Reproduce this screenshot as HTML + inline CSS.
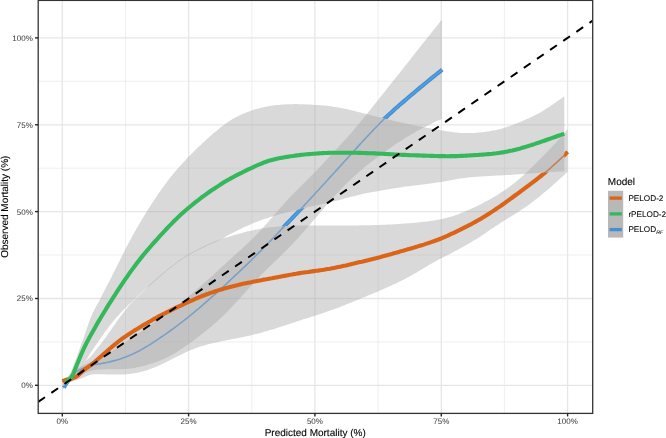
<!DOCTYPE html>
<html><head><meta charset="utf-8"><title>Calibration plot</title>
<style>
html,body{margin:0;padding:0;background:#fff;}
body{width:666px;height:438px;overflow:hidden;font-family:"Liberation Sans",sans-serif;}
svg{display:block;font-family:"Liberation Sans",sans-serif;text-rendering:geometricPrecision;}
.mn{stroke:#ebebeb;stroke-width:0.8;}
.mj{stroke:#e6e6e6;stroke-width:1.3;}
.tk{stroke:#262626;stroke-width:1.4;}
.tl{font-size:8px;fill:#444;stroke:#444;stroke-width:0.05;}
.ll{font-size:8.2px;fill:#000;stroke:#000;stroke-width:0.06;}
.at{font-size:10px;fill:#000;stroke:#000;stroke-width:0.1;}
.rb{fill:#a6a6a6;fill-opacity:0.43;stroke:none;}
.thick{fill:none;stroke-width:4.1;stroke-linecap:butt;stroke-linejoin:round;}
.thin{fill:none;stroke-width:1.6;stroke-linecap:butt;stroke-linejoin:round;}
</style></head><body>
<svg width="666" height="438" viewBox="0 0 666 438">
<defs>
<clipPath id="panel"><rect x="38.2" y="0.0" width="554.5" height="413.4"/></clipPath>
<mask id="mB" maskUnits="userSpaceOnUse" x="0" y="0" width="666" height="438"><rect width="666" height="438" fill="#fff"/><path d="M62.5,383.5 L64.5,382.5 L66.5,381.2 L68.5,379.8 L70.5,378.2 L72.5,376.4 L74.5,374.3 L76.5,372.0 L78.5,369.5 L80.5,367.1 L82.5,364.7 L84.5,362.2 L86.5,360.2 L88.5,358.5 L90.5,356.7 L92.4,354.5 L94.4,352.1 L96.4,349.6 L98.4,347.1 L100.4,344.5 L102.4,341.8 L104.4,339.1 L106.4,336.4 L108.4,333.6 L110.4,330.7 L112.4,327.8 L114.4,324.9 L116.4,322.1 L118.4,319.3 L120.4,316.6 L122.4,313.9 L124.4,311.3 L126.4,308.7 L128.4,306.2 L130.4,303.9 L132.4,301.9 L134.4,299.9 L136.4,297.9 L138.4,296.0 L140.4,294.1 L142.4,292.2 L144.4,290.4 L146.4,288.5 L148.3,286.2 L150.3,284.1 L152.3,282.3 L154.3,280.6 L156.3,278.8 L158.3,277.1 L160.3,275.3 L162.3,273.6 L164.3,271.9 L166.3,270.3 L168.3,268.6 L170.3,267.0 L172.3,265.4 L174.3,263.9 L176.3,262.4 L178.3,260.9 L180.3,259.5 L182.3,258.2 L184.3,256.9 L186.3,255.6 L188.3,254.4 L190.3,253.3 L192.3,252.2 L194.3,251.1 L196.3,250.0 L198.3,249.0 L200.3,248.0 L202.3,247.0 L204.2,246.1 L206.2,245.1 L208.2,244.2 L210.2,243.3 L212.2,242.4 L214.2,241.5 L216.2,240.7 L218.2,239.9 L220.2,239.2 L222.2,238.5 L224.2,237.9 L226.2,237.4 L228.2,236.9 L230.2,236.3 L232.2,235.7 L234.2,235.1 L236.2,234.5 L238.2,234.0 L240.2,233.4 L242.2,232.9 L244.2,232.3 L246.2,231.8 L248.2,231.3 L250.2,230.9 L252.2,230.4 L254.2,230.0 L256.2,229.6 L258.2,229.2 L260.1,228.8 L262.1,228.5 L264.1,228.2 L266.1,227.9 L268.1,227.6 L270.1,227.4 L272.1,227.1 L274.1,226.9 L276.1,226.7 L278.1,226.5 L280.1,226.4 L282.1,226.2 L284.1,226.1 L286.1,226.0 L288.1,225.9 L290.1,225.8 L292.1,225.7 L294.1,225.6 L296.1,225.6 L298.1,225.5 L300.1,225.5 L302.1,225.4 L304.1,225.4 L306.1,225.4 L308.1,225.4 L310.1,225.4 L312.1,225.4 L314.1,225.4 L316.0,225.4 L318.0,225.4 L320.0,225.4 L322.0,225.4 L324.0,225.4 L326.0,225.4 L328.0,225.4 L330.0,225.4 L332.0,225.4 L334.0,225.4 L336.0,225.4 L338.0,225.4 L340.0,225.4 L342.0,225.4 L344.0,225.4 L346.0,225.4 L348.0,225.4 L350.0,225.4 L352.0,225.4 L354.0,225.4 L356.0,225.4 L358.0,225.4 L360.0,225.3 L362.0,225.3 L364.0,225.3 L366.0,225.3 L368.0,225.2 L370.0,225.2 L371.9,225.2 L373.9,225.1 L375.9,225.0 L377.9,225.0 L379.9,224.9 L381.9,224.8 L383.9,224.8 L385.9,224.7 L387.9,224.6 L389.9,224.5 L391.9,224.4 L393.9,224.3 L395.9,224.2 L397.9,224.0 L399.9,223.9 L401.9,223.8 L403.9,223.6 L405.9,223.5 L407.9,223.3 L409.9,223.2 L411.9,223.0 L413.9,222.8 L415.9,222.7 L417.9,222.5 L419.9,222.3 L421.9,222.0 L423.9,221.8 L425.9,221.6 L427.8,221.4 L429.8,221.1 L431.8,220.8 L433.8,220.5 L435.8,220.2 L437.8,219.8 L439.8,219.5 L441.8,219.0 L443.8,218.6 L445.8,218.1 L447.8,217.6 L449.8,217.0 L451.8,216.4 L453.8,215.7 L455.8,215.1 L457.8,214.4 L459.8,213.6 L461.8,212.8 L463.8,212.0 L465.8,211.2 L467.8,210.3 L469.8,209.5 L471.8,208.5 L473.8,207.6 L475.8,206.7 L477.8,205.7 L479.8,204.7 L481.8,203.7 L483.7,202.6 L485.7,201.6 L487.7,200.5 L489.7,199.4 L491.7,198.2 L493.7,197.1 L495.7,195.9 L497.7,194.6 L499.7,193.4 L501.7,192.1 L503.7,190.7 L505.7,189.4 L507.7,188.0 L509.7,186.5 L511.7,185.0 L513.7,183.5 L515.7,181.9 L517.7,180.3 L519.7,178.6 L521.7,176.9 L523.7,175.1 L525.7,173.3 L527.7,171.4 L529.7,169.5 L531.7,167.5 L533.7,165.6 L535.7,163.6 L537.7,161.6 L539.6,159.6 L541.6,157.5 L543.6,155.5 L545.6,153.4 L547.6,151.4 L549.6,149.3 L551.6,147.2 L553.6,145.1 L555.6,142.9 L557.6,140.8 L559.6,138.6 L561.6,136.3 L563.6,134.1 L565.6,131.8 L567.6,129.5 L567.6,171.7 L565.6,173.6 L563.6,175.4 L561.6,177.3 L559.6,179.1 L557.6,180.9 L555.6,182.7 L553.6,184.5 L551.6,186.2 L549.6,188.0 L547.6,189.7 L545.6,191.4 L543.6,193.1 L541.6,194.7 L539.6,196.4 L537.7,198.0 L535.7,199.6 L533.7,201.1 L531.7,202.6 L529.7,204.1 L527.7,205.5 L525.7,206.9 L523.7,208.3 L521.7,209.6 L519.7,210.9 L517.7,212.2 L515.7,213.4 L513.7,214.7 L511.7,216.0 L509.7,217.2 L507.7,218.5 L505.7,219.8 L503.7,221.1 L501.7,222.3 L499.7,223.6 L497.7,224.9 L495.7,226.1 L493.7,227.4 L491.7,228.8 L489.7,230.1 L487.7,231.5 L485.7,232.9 L483.7,234.3 L481.8,235.6 L479.8,237.0 L477.8,238.3 L475.8,239.5 L473.8,240.6 L471.8,241.8 L469.8,242.9 L467.8,244.1 L465.8,245.2 L463.8,246.4 L461.8,247.5 L459.8,248.6 L457.8,249.7 L455.8,250.8 L453.8,251.8 L451.8,252.9 L449.8,253.9 L447.8,254.9 L445.8,255.9 L443.8,257.0 L441.8,258.0 L439.8,259.0 L437.8,260.1 L435.8,261.2 L433.8,262.3 L431.8,263.4 L429.8,264.6 L427.8,265.7 L425.9,266.9 L423.9,268.1 L421.9,269.3 L419.9,270.5 L417.9,271.7 L415.9,272.9 L413.9,274.0 L411.9,275.2 L409.9,276.2 L407.9,277.3 L405.9,278.4 L403.9,279.4 L401.9,280.4 L399.9,281.4 L397.9,282.4 L395.9,283.4 L393.9,284.3 L391.9,285.3 L389.9,286.2 L387.9,287.1 L385.9,288.0 L383.9,288.8 L381.9,289.7 L379.9,290.6 L377.9,291.4 L375.9,292.3 L373.9,293.1 L371.9,293.9 L370.0,294.8 L368.0,295.6 L366.0,296.4 L364.0,297.3 L362.0,298.1 L360.0,298.9 L358.0,299.7 L356.0,300.5 L354.0,301.3 L352.0,302.2 L350.0,303.0 L348.0,303.8 L346.0,304.6 L344.0,305.4 L342.0,306.1 L340.0,306.9 L338.0,307.7 L336.0,308.4 L334.0,309.2 L332.0,309.9 L330.0,310.6 L328.0,311.3 L326.0,312.0 L324.0,312.7 L322.0,313.4 L320.0,314.0 L318.0,314.7 L316.0,315.3 L314.1,315.9 L312.1,316.6 L310.1,317.2 L308.1,317.9 L306.1,318.5 L304.1,319.1 L302.1,319.8 L300.1,320.4 L298.1,321.1 L296.1,321.8 L294.1,322.4 L292.1,323.1 L290.1,323.7 L288.1,324.4 L286.1,325.0 L284.1,325.7 L282.1,326.3 L280.1,327.0 L278.1,327.6 L276.1,328.2 L274.1,328.9 L272.1,329.5 L270.1,330.1 L268.1,330.7 L266.1,331.3 L264.1,331.8 L262.1,332.4 L260.1,332.9 L258.2,333.5 L256.2,334.0 L254.2,334.5 L252.2,335.0 L250.2,335.4 L248.2,335.9 L246.2,336.3 L244.2,336.8 L242.2,337.2 L240.2,337.6 L238.2,338.0 L236.2,338.4 L234.2,338.8 L232.2,339.1 L230.2,339.5 L228.2,339.9 L226.2,340.3 L224.2,340.7 L222.2,341.1 L220.2,341.5 L218.2,341.9 L216.2,342.4 L214.2,342.8 L212.2,343.3 L210.2,343.8 L208.2,344.3 L206.2,344.8 L204.2,345.4 L202.3,346.0 L200.3,346.6 L198.3,347.2 L196.3,347.9 L194.3,348.7 L192.3,349.4 L190.3,350.2 L188.3,351.1 L186.3,352.0 L184.3,352.9 L182.3,353.9 L180.3,354.9 L178.3,355.9 L176.3,356.9 L174.3,357.9 L172.3,359.0 L170.3,360.0 L168.3,361.0 L166.3,362.0 L164.3,363.0 L162.3,364.0 L160.3,364.9 L158.3,365.8 L156.3,366.7 L154.3,367.5 L152.3,368.3 L150.3,369.0 L148.3,369.7 L146.4,370.4 L144.4,371.0 L142.4,371.6 L140.4,372.1 L138.4,372.5 L136.4,373.0 L134.4,373.3 L132.4,373.6 L130.4,373.9 L128.4,374.1 L126.4,374.3 L124.4,374.4 L122.4,374.5 L120.4,374.5 L118.4,374.6 L116.4,374.6 L114.4,374.5 L112.4,374.5 L110.4,374.4 L108.4,374.4 L106.4,374.4 L104.4,374.3 L102.4,374.3 L100.4,374.3 L98.4,374.3 L96.4,374.3 L94.4,374.3 L92.4,374.4 L90.5,374.7 L88.5,375.4 L86.5,376.2 L84.5,377.1 L82.5,378.0 L80.5,378.8 L78.5,379.5 L76.5,380.1 L74.5,380.7 L72.5,381.4 L70.5,382.1 L68.5,383.0 L66.5,384.0 L64.5,385.1 L62.5,386.3Z" fill="#000"/><path d="M62.5,384.0 L64.5,382.2 L66.5,379.9 L68.5,376.8 L70.5,373.0 L72.5,368.3 L74.5,363.1 L76.5,357.6 L78.5,351.9 L80.5,346.3 L82.5,341.0 L84.5,335.4 L86.5,329.5 L88.5,323.6 L90.5,318.0 L92.5,313.4 L94.5,309.5 L96.5,305.8 L98.5,302.2 L100.5,298.3 L102.5,294.4 L104.5,290.5 L106.5,286.6 L108.5,282.8 L110.5,278.9 L112.5,275.0 L114.5,271.0 L116.5,267.0 L118.5,263.0 L120.5,259.0 L122.5,255.0 L124.5,251.0 L126.5,247.1 L128.5,243.3 L130.5,239.5 L132.5,235.8 L134.5,232.2 L136.5,228.7 L138.5,225.3 L140.5,221.9 L142.5,218.6 L144.5,215.3 L146.5,212.0 L148.5,208.8 L150.5,205.7 L152.5,202.6 L154.5,199.6 L156.5,196.6 L158.5,193.6 L160.5,190.8 L162.5,187.9 L164.5,185.2 L166.5,182.4 L168.5,179.8 L170.5,177.2 L172.5,174.7 L174.5,172.3 L176.5,170.0 L178.5,167.7 L180.5,165.5 L182.5,163.3 L184.5,161.2 L186.5,159.1 L188.4,157.1 L190.4,155.0 L192.4,153.0 L194.4,151.0 L196.4,149.1 L198.4,147.1 L200.4,145.2 L202.4,143.3 L204.4,141.5 L206.4,139.6 L208.4,137.8 L210.4,136.1 L212.4,134.3 L214.4,132.6 L216.4,130.9 L218.4,129.2 L220.4,127.6 L222.4,126.0 L224.4,124.5 L226.4,123.0 L228.4,121.7 L230.4,120.4 L232.4,119.1 L234.4,118.0 L236.4,116.9 L238.4,115.9 L240.4,114.9 L242.4,114.0 L244.4,113.2 L246.4,112.4 L248.4,111.7 L250.4,111.0 L252.4,110.3 L254.4,109.6 L256.4,109.0 L258.4,108.5 L260.4,107.9 L262.4,107.4 L264.4,106.9 L266.4,106.5 L268.4,106.2 L270.4,105.8 L272.4,105.5 L274.4,105.3 L276.4,105.1 L278.4,104.9 L280.4,104.7 L282.4,104.6 L284.4,104.4 L286.4,104.3 L288.4,104.3 L290.4,104.2 L292.4,104.2 L294.4,104.1 L296.4,104.1 L298.4,104.2 L300.4,104.2 L302.4,104.3 L304.4,104.3 L306.4,104.4 L308.4,104.5 L310.4,104.6 L312.4,104.7 L314.4,104.9 L316.4,105.0 L318.4,105.1 L320.4,105.3 L322.4,105.5 L324.4,105.6 L326.4,105.8 L328.4,106.1 L330.4,106.3 L332.4,106.6 L334.4,106.9 L336.4,107.2 L338.4,107.5 L340.4,107.9 L342.4,108.3 L344.4,108.7 L346.4,109.1 L348.4,109.6 L350.4,110.0 L352.4,110.5 L354.4,110.9 L356.4,111.4 L358.4,111.9 L360.4,112.4 L362.4,112.9 L364.4,113.4 L366.4,113.9 L368.4,114.4 L370.4,114.9 L372.4,115.4 L374.4,115.9 L376.4,116.4 L378.4,116.9 L380.4,117.5 L382.4,118.0 L384.4,118.5 L386.4,119.0 L388.4,119.5 L390.4,120.0 L392.4,120.4 L394.4,120.9 L396.4,121.4 L398.4,121.8 L400.4,122.3 L402.4,122.8 L404.4,123.2 L406.4,123.6 L408.4,124.1 L410.4,124.5 L412.4,124.9 L414.4,125.3 L416.4,125.7 L418.4,126.2 L420.4,126.6 L422.4,126.9 L424.4,127.3 L426.4,127.7 L428.4,128.1 L430.4,128.4 L432.4,128.8 L434.4,129.1 L436.4,129.5 L438.4,129.8 L440.3,130.2 L442.3,130.5 L444.3,130.8 L446.3,131.2 L448.3,131.5 L450.3,131.8 L452.3,132.1 L454.3,132.4 L456.3,132.6 L458.3,132.8 L460.3,132.9 L462.3,133.0 L464.3,133.1 L466.3,133.1 L468.3,133.1 L470.3,133.1 L472.3,133.0 L474.3,132.9 L476.3,132.8 L478.3,132.6 L480.3,132.4 L482.3,132.2 L484.3,132.0 L486.3,131.7 L488.3,131.4 L490.3,131.1 L492.3,130.7 L494.3,130.3 L496.3,129.9 L498.3,129.4 L500.3,128.9 L502.3,128.4 L504.3,127.8 L506.3,127.2 L508.3,126.5 L510.3,125.8 L512.3,125.1 L514.3,124.3 L516.3,123.5 L518.3,122.7 L520.3,121.9 L522.3,121.0 L524.3,120.2 L526.3,119.3 L528.3,118.4 L530.3,117.5 L532.3,116.6 L534.3,115.6 L536.3,114.6 L538.3,113.6 L540.3,112.4 L542.3,111.3 L544.3,110.1 L546.3,108.8 L548.3,107.5 L550.3,106.2 L552.3,104.8 L554.3,103.4 L556.3,102.0 L558.3,100.6 L560.3,99.2 L562.3,97.7 L564.3,96.2 L564.3,171.3 L562.3,171.4 L560.3,171.5 L558.3,171.6 L556.3,171.7 L554.3,171.9 L552.3,172.0 L550.3,172.1 L548.3,172.2 L546.3,172.4 L544.3,172.5 L542.3,172.6 L540.3,172.8 L538.3,172.9 L536.3,173.0 L534.3,173.2 L532.3,173.3 L530.3,173.5 L528.3,173.6 L526.3,173.8 L524.3,173.9 L522.3,174.1 L520.3,174.2 L518.3,174.3 L516.3,174.5 L514.3,174.6 L512.3,174.7 L510.3,174.9 L508.3,175.0 L506.3,175.1 L504.3,175.2 L502.3,175.3 L500.3,175.4 L498.3,175.5 L496.3,175.6 L494.3,175.7 L492.3,175.8 L490.3,175.9 L488.3,176.1 L486.3,176.2 L484.3,176.3 L482.3,176.4 L480.3,176.5 L478.3,176.7 L476.3,176.8 L474.3,177.0 L472.3,177.1 L470.3,177.3 L468.3,177.5 L466.3,177.7 L464.3,178.0 L462.3,178.2 L460.3,178.5 L458.3,178.8 L456.3,179.2 L454.3,179.5 L452.3,179.9 L450.3,180.3 L448.3,180.7 L446.3,181.0 L444.3,181.4 L442.3,181.7 L440.3,182.0 L438.4,182.3 L436.4,182.6 L434.4,182.9 L432.4,183.2 L430.4,183.5 L428.4,183.8 L426.4,184.0 L424.4,184.3 L422.4,184.6 L420.4,184.8 L418.4,185.1 L416.4,185.3 L414.4,185.6 L412.4,185.8 L410.4,186.1 L408.4,186.3 L406.4,186.6 L404.4,186.8 L402.4,187.1 L400.4,187.4 L398.4,187.7 L396.4,188.0 L394.4,188.3 L392.4,188.6 L390.4,188.9 L388.4,189.3 L386.4,189.6 L384.4,190.0 L382.4,190.3 L380.4,190.7 L378.4,191.0 L376.4,191.4 L374.4,191.7 L372.4,192.1 L370.4,192.5 L368.4,192.8 L366.4,193.2 L364.4,193.6 L362.4,194.1 L360.4,194.5 L358.4,194.9 L356.4,195.4 L354.4,195.9 L352.4,196.4 L350.4,196.9 L348.4,197.5 L346.4,198.1 L344.4,198.6 L342.4,199.2 L340.4,199.8 L338.4,200.3 L336.4,200.8 L334.4,201.3 L332.4,201.8 L330.4,202.3 L328.4,202.7 L326.4,203.2 L324.4,203.6 L322.4,204.1 L320.4,204.5 L318.4,204.9 L316.4,205.3 L314.4,205.8 L312.4,206.2 L310.4,206.6 L308.4,207.1 L306.4,207.5 L304.4,208.0 L302.4,208.4 L300.4,208.9 L298.4,209.4 L296.4,209.9 L294.4,210.4 L292.4,210.9 L290.4,211.4 L288.4,211.9 L286.4,212.5 L284.4,213.0 L282.4,213.6 L280.4,214.1 L278.4,214.7 L276.4,215.3 L274.4,215.9 L272.4,216.5 L270.4,217.1 L268.4,217.7 L266.4,218.4 L264.4,219.1 L262.4,219.8 L260.4,220.5 L258.4,221.3 L256.4,222.1 L254.4,222.8 L252.4,223.6 L250.4,224.5 L248.4,225.3 L246.4,226.2 L244.4,227.1 L242.4,228.0 L240.4,229.0 L238.4,229.9 L236.4,230.9 L234.4,231.9 L232.4,233.0 L230.4,234.0 L228.4,235.1 L226.4,236.3 L224.4,237.4 L222.4,238.5 L220.4,239.5 L218.4,240.5 L216.4,241.4 L214.4,242.4 L212.4,243.3 L210.4,244.2 L208.4,245.1 L206.4,246.0 L204.4,247.0 L202.4,247.9 L200.4,248.9 L198.4,249.9 L196.4,250.9 L194.4,252.0 L192.4,253.1 L190.4,254.2 L188.4,255.3 L186.5,256.5 L184.5,257.8 L182.5,259.0 L180.5,260.4 L178.5,261.8 L176.5,263.2 L174.5,264.7 L172.5,266.3 L170.5,267.9 L168.5,269.5 L166.5,271.1 L164.5,272.8 L162.5,274.5 L160.5,276.2 L158.5,278.0 L156.5,279.7 L154.5,281.5 L152.5,283.2 L150.5,285.0 L148.5,286.7 L146.5,288.2 L144.5,289.9 L142.5,291.7 L140.5,293.6 L138.5,295.4 L136.5,297.3 L134.5,299.3 L132.5,301.2 L130.5,303.2 L128.5,305.1 L126.5,307.1 L124.5,309.0 L122.5,311.0 L120.5,313.1 L118.5,315.3 L116.5,317.5 L114.5,319.8 L112.5,322.2 L110.5,324.7 L108.5,327.2 L106.5,329.9 L104.5,332.7 L102.5,335.5 L100.5,338.4 L98.5,341.3 L96.5,344.2 L94.5,347.1 L92.5,350.1 L90.5,353.1 L88.5,356.3 L86.5,359.5 L84.5,362.4 L82.5,365.0 L80.5,367.5 L78.5,370.0 L76.5,372.5 L74.5,374.8 L72.5,377.0 L70.5,378.8 L68.5,380.5 L66.5,381.9 L64.5,383.2 L62.5,384.2Z" fill="#000"/></mask>
<mask id="mO" maskUnits="userSpaceOnUse" x="0" y="0" width="666" height="438"><rect width="666" height="438" fill="#fff"/><path d="M62.5,384.0 L64.5,382.2 L66.5,379.9 L68.5,376.8 L70.5,373.0 L72.5,368.3 L74.5,363.1 L76.5,357.6 L78.5,351.9 L80.5,346.3 L82.5,341.0 L84.5,335.4 L86.5,329.5 L88.5,323.6 L90.5,318.0 L92.5,313.4 L94.5,309.5 L96.5,305.8 L98.5,302.2 L100.5,298.3 L102.5,294.4 L104.5,290.5 L106.5,286.6 L108.5,282.8 L110.5,278.9 L112.5,275.0 L114.5,271.0 L116.5,267.0 L118.5,263.0 L120.5,259.0 L122.5,255.0 L124.5,251.0 L126.5,247.1 L128.5,243.3 L130.5,239.5 L132.5,235.8 L134.5,232.2 L136.5,228.7 L138.5,225.3 L140.5,221.9 L142.5,218.6 L144.5,215.3 L146.5,212.0 L148.5,208.8 L150.5,205.7 L152.5,202.6 L154.5,199.6 L156.5,196.6 L158.5,193.6 L160.5,190.8 L162.5,187.9 L164.5,185.2 L166.5,182.4 L168.5,179.8 L170.5,177.2 L172.5,174.7 L174.5,172.3 L176.5,170.0 L178.5,167.7 L180.5,165.5 L182.5,163.3 L184.5,161.2 L186.5,159.1 L188.4,157.1 L190.4,155.0 L192.4,153.0 L194.4,151.0 L196.4,149.1 L198.4,147.1 L200.4,145.2 L202.4,143.3 L204.4,141.5 L206.4,139.6 L208.4,137.8 L210.4,136.1 L212.4,134.3 L214.4,132.6 L216.4,130.9 L218.4,129.2 L220.4,127.6 L222.4,126.0 L224.4,124.5 L226.4,123.0 L228.4,121.7 L230.4,120.4 L232.4,119.1 L234.4,118.0 L236.4,116.9 L238.4,115.9 L240.4,114.9 L242.4,114.0 L244.4,113.2 L246.4,112.4 L248.4,111.7 L250.4,111.0 L252.4,110.3 L254.4,109.6 L256.4,109.0 L258.4,108.5 L260.4,107.9 L262.4,107.4 L264.4,106.9 L266.4,106.5 L268.4,106.2 L270.4,105.8 L272.4,105.5 L274.4,105.3 L276.4,105.1 L278.4,104.9 L280.4,104.7 L282.4,104.6 L284.4,104.4 L286.4,104.3 L288.4,104.3 L290.4,104.2 L292.4,104.2 L294.4,104.1 L296.4,104.1 L298.4,104.2 L300.4,104.2 L302.4,104.3 L304.4,104.3 L306.4,104.4 L308.4,104.5 L310.4,104.6 L312.4,104.7 L314.4,104.9 L316.4,105.0 L318.4,105.1 L320.4,105.3 L322.4,105.5 L324.4,105.6 L326.4,105.8 L328.4,106.1 L330.4,106.3 L332.4,106.6 L334.4,106.9 L336.4,107.2 L338.4,107.5 L340.4,107.9 L342.4,108.3 L344.4,108.7 L346.4,109.1 L348.4,109.6 L350.4,110.0 L352.4,110.5 L354.4,110.9 L356.4,111.4 L358.4,111.9 L360.4,112.4 L362.4,112.9 L364.4,113.4 L366.4,113.9 L368.4,114.4 L370.4,114.9 L372.4,115.4 L374.4,115.9 L376.4,116.4 L378.4,116.9 L380.4,117.5 L382.4,118.0 L384.4,118.5 L386.4,119.0 L388.4,119.5 L390.4,120.0 L392.4,120.4 L394.4,120.9 L396.4,121.4 L398.4,121.8 L400.4,122.3 L402.4,122.8 L404.4,123.2 L406.4,123.6 L408.4,124.1 L410.4,124.5 L412.4,124.9 L414.4,125.3 L416.4,125.7 L418.4,126.2 L420.4,126.6 L422.4,126.9 L424.4,127.3 L426.4,127.7 L428.4,128.1 L430.4,128.4 L432.4,128.8 L434.4,129.1 L436.4,129.5 L438.4,129.8 L440.3,130.2 L442.3,130.5 L444.3,130.8 L446.3,131.2 L448.3,131.5 L450.3,131.8 L452.3,132.1 L454.3,132.4 L456.3,132.6 L458.3,132.8 L460.3,132.9 L462.3,133.0 L464.3,133.1 L466.3,133.1 L468.3,133.1 L470.3,133.1 L472.3,133.0 L474.3,132.9 L476.3,132.8 L478.3,132.6 L480.3,132.4 L482.3,132.2 L484.3,132.0 L486.3,131.7 L488.3,131.4 L490.3,131.1 L492.3,130.7 L494.3,130.3 L496.3,129.9 L498.3,129.4 L500.3,128.9 L502.3,128.4 L504.3,127.8 L506.3,127.2 L508.3,126.5 L510.3,125.8 L512.3,125.1 L514.3,124.3 L516.3,123.5 L518.3,122.7 L520.3,121.9 L522.3,121.0 L524.3,120.2 L526.3,119.3 L528.3,118.4 L530.3,117.5 L532.3,116.6 L534.3,115.6 L536.3,114.6 L538.3,113.6 L540.3,112.4 L542.3,111.3 L544.3,110.1 L546.3,108.8 L548.3,107.5 L550.3,106.2 L552.3,104.8 L554.3,103.4 L556.3,102.0 L558.3,100.6 L560.3,99.2 L562.3,97.7 L564.3,96.2 L564.3,171.3 L562.3,171.4 L560.3,171.5 L558.3,171.6 L556.3,171.7 L554.3,171.9 L552.3,172.0 L550.3,172.1 L548.3,172.2 L546.3,172.4 L544.3,172.5 L542.3,172.6 L540.3,172.8 L538.3,172.9 L536.3,173.0 L534.3,173.2 L532.3,173.3 L530.3,173.5 L528.3,173.6 L526.3,173.8 L524.3,173.9 L522.3,174.1 L520.3,174.2 L518.3,174.3 L516.3,174.5 L514.3,174.6 L512.3,174.7 L510.3,174.9 L508.3,175.0 L506.3,175.1 L504.3,175.2 L502.3,175.3 L500.3,175.4 L498.3,175.5 L496.3,175.6 L494.3,175.7 L492.3,175.8 L490.3,175.9 L488.3,176.1 L486.3,176.2 L484.3,176.3 L482.3,176.4 L480.3,176.5 L478.3,176.7 L476.3,176.8 L474.3,177.0 L472.3,177.1 L470.3,177.3 L468.3,177.5 L466.3,177.7 L464.3,178.0 L462.3,178.2 L460.3,178.5 L458.3,178.8 L456.3,179.2 L454.3,179.5 L452.3,179.9 L450.3,180.3 L448.3,180.7 L446.3,181.0 L444.3,181.4 L442.3,181.7 L440.3,182.0 L438.4,182.3 L436.4,182.6 L434.4,182.9 L432.4,183.2 L430.4,183.5 L428.4,183.8 L426.4,184.0 L424.4,184.3 L422.4,184.6 L420.4,184.8 L418.4,185.1 L416.4,185.3 L414.4,185.6 L412.4,185.8 L410.4,186.1 L408.4,186.3 L406.4,186.6 L404.4,186.8 L402.4,187.1 L400.4,187.4 L398.4,187.7 L396.4,188.0 L394.4,188.3 L392.4,188.6 L390.4,188.9 L388.4,189.3 L386.4,189.6 L384.4,190.0 L382.4,190.3 L380.4,190.7 L378.4,191.0 L376.4,191.4 L374.4,191.7 L372.4,192.1 L370.4,192.5 L368.4,192.8 L366.4,193.2 L364.4,193.6 L362.4,194.1 L360.4,194.5 L358.4,194.9 L356.4,195.4 L354.4,195.9 L352.4,196.4 L350.4,196.9 L348.4,197.5 L346.4,198.1 L344.4,198.6 L342.4,199.2 L340.4,199.8 L338.4,200.3 L336.4,200.8 L334.4,201.3 L332.4,201.8 L330.4,202.3 L328.4,202.7 L326.4,203.2 L324.4,203.6 L322.4,204.1 L320.4,204.5 L318.4,204.9 L316.4,205.3 L314.4,205.8 L312.4,206.2 L310.4,206.6 L308.4,207.1 L306.4,207.5 L304.4,208.0 L302.4,208.4 L300.4,208.9 L298.4,209.4 L296.4,209.9 L294.4,210.4 L292.4,210.9 L290.4,211.4 L288.4,211.9 L286.4,212.5 L284.4,213.0 L282.4,213.6 L280.4,214.1 L278.4,214.7 L276.4,215.3 L274.4,215.9 L272.4,216.5 L270.4,217.1 L268.4,217.7 L266.4,218.4 L264.4,219.1 L262.4,219.8 L260.4,220.5 L258.4,221.3 L256.4,222.1 L254.4,222.8 L252.4,223.6 L250.4,224.5 L248.4,225.3 L246.4,226.2 L244.4,227.1 L242.4,228.0 L240.4,229.0 L238.4,229.9 L236.4,230.9 L234.4,231.9 L232.4,233.0 L230.4,234.0 L228.4,235.1 L226.4,236.3 L224.4,237.4 L222.4,238.5 L220.4,239.5 L218.4,240.5 L216.4,241.4 L214.4,242.4 L212.4,243.3 L210.4,244.2 L208.4,245.1 L206.4,246.0 L204.4,247.0 L202.4,247.9 L200.4,248.9 L198.4,249.9 L196.4,250.9 L194.4,252.0 L192.4,253.1 L190.4,254.2 L188.4,255.3 L186.5,256.5 L184.5,257.8 L182.5,259.0 L180.5,260.4 L178.5,261.8 L176.5,263.2 L174.5,264.7 L172.5,266.3 L170.5,267.9 L168.5,269.5 L166.5,271.1 L164.5,272.8 L162.5,274.5 L160.5,276.2 L158.5,278.0 L156.5,279.7 L154.5,281.5 L152.5,283.2 L150.5,285.0 L148.5,286.7 L146.5,288.2 L144.5,289.9 L142.5,291.7 L140.5,293.6 L138.5,295.4 L136.5,297.3 L134.5,299.3 L132.5,301.2 L130.5,303.2 L128.5,305.1 L126.5,307.1 L124.5,309.0 L122.5,311.0 L120.5,313.1 L118.5,315.3 L116.5,317.5 L114.5,319.8 L112.5,322.2 L110.5,324.7 L108.5,327.2 L106.5,329.9 L104.5,332.7 L102.5,335.5 L100.5,338.4 L98.5,341.3 L96.5,344.2 L94.5,347.1 L92.5,350.1 L90.5,353.1 L88.5,356.3 L86.5,359.5 L84.5,362.4 L82.5,365.0 L80.5,367.5 L78.5,370.0 L76.5,372.5 L74.5,374.8 L72.5,377.0 L70.5,378.8 L68.5,380.5 L66.5,381.9 L64.5,383.2 L62.5,384.2Z" fill="#000"/></mask>
</defs>
<rect width="666" height="438" fill="#fff"/>
<g clip-path="url(#panel)">
<line x1="125.5" x2="125.5" y1="0.0" y2="413.4" class="mn"/>
<line y1="341.9" y2="341.9" x1="38.2" x2="592.7" class="mn"/>
<line x1="251.8" x2="251.8" y1="0.0" y2="413.4" class="mn"/>
<line y1="255.0" y2="255.0" x1="38.2" x2="592.7" class="mn"/>
<line x1="378.1" x2="378.1" y1="0.0" y2="413.4" class="mn"/>
<line y1="168.2" y2="168.2" x1="38.2" x2="592.7" class="mn"/>
<line x1="504.4" x2="504.4" y1="0.0" y2="413.4" class="mn"/>
<line y1="81.3" y2="81.3" x1="38.2" x2="592.7" class="mn"/>
<line x1="62.3" x2="62.3" y1="0.0" y2="413.4" class="mj"/>
<line y1="385.3" y2="385.3" x1="38.2" x2="592.7" class="mj"/>
<line x1="188.6" x2="188.6" y1="0.0" y2="413.4" class="mj"/>
<line y1="298.5" y2="298.5" x1="38.2" x2="592.7" class="mj"/>
<line x1="314.9" x2="314.9" y1="0.0" y2="413.4" class="mj"/>
<line y1="211.6" y2="211.6" x1="38.2" x2="592.7" class="mj"/>
<line x1="441.3" x2="441.3" y1="0.0" y2="413.4" class="mj"/>
<line y1="124.8" y2="124.8" x1="38.2" x2="592.7" class="mj"/>
<line x1="567.6" x2="567.6" y1="0.0" y2="413.4" class="mj"/>
<line y1="37.9" y2="37.9" x1="38.2" x2="592.7" class="mj"/>
<path d="M62.5,386.0 L64.5,382.6 L66.5,379.5 L68.5,376.7 L70.5,374.5 L72.5,372.6 L74.5,370.9 L76.5,369.4 L78.5,368.1 L80.5,366.9 L82.5,365.8 L84.5,364.8 L86.5,363.9 L88.5,363.0 L90.4,362.1 L92.4,361.2 L94.4,360.2 L96.4,359.3 L98.4,358.4 L100.4,357.4 L102.4,356.3 L104.4,355.2 L106.4,354.1 L108.4,353.0 L110.4,351.8 L112.4,350.6 L114.4,349.4 L116.4,348.1 L118.4,346.8 L120.4,345.5 L122.4,344.2 L124.4,342.9 L126.4,341.5 L128.4,340.1 L130.4,338.8 L132.4,337.4 L134.4,336.0 L136.4,334.6 L138.4,333.3 L140.4,331.9 L142.4,330.5 L144.3,329.1 L146.3,327.7 L148.3,326.4 L150.3,325.0 L152.3,323.6 L154.3,322.2 L156.3,320.8 L158.3,319.5 L160.3,318.1 L162.3,316.7 L164.3,315.2 L166.3,313.8 L168.3,312.4 L170.3,310.9 L172.3,309.4 L174.3,307.9 L176.3,306.4 L178.3,304.8 L180.3,303.2 L182.3,301.7 L184.3,300.0 L186.3,298.4 L188.3,296.7 L190.3,295.1 L192.3,293.4 L194.3,291.7 L196.3,290.0 L198.2,288.2 L200.2,286.5 L202.2,284.8 L204.2,283.0 L206.2,281.2 L208.2,279.5 L210.2,277.7 L212.2,275.9 L214.2,274.0 L216.2,272.2 L218.2,270.3 L220.2,268.5 L222.2,266.6 L224.2,264.8 L226.2,263.0 L228.2,261.1 L230.2,259.3 L232.2,257.5 L234.2,255.6 L236.2,253.8 L238.2,252.0 L240.2,250.2 L242.2,248.4 L244.2,246.6 L246.2,244.8 L248.2,242.9 L250.2,241.0 L252.2,239.1 L254.1,237.1 L256.1,235.1 L258.1,233.0 L260.1,230.9 L262.1,228.8 L264.1,226.6 L266.1,224.3 L268.1,222.0 L270.1,219.7 L272.1,217.4 L274.1,215.1 L276.1,212.8 L278.1,210.4 L280.1,208.1 L282.1,205.9 L284.1,203.6 L286.1,201.4 L288.1,199.2 L290.1,197.1 L292.1,195.0 L294.1,192.9 L296.1,190.9 L298.1,188.9 L300.1,186.9 L302.1,184.9 L304.1,183.0 L306.1,181.0 L308.0,179.1 L310.0,177.1 L312.0,175.1 L314.0,173.1 L316.0,171.1 L318.0,169.0 L320.0,166.9 L322.0,164.8 L324.0,162.6 L326.0,160.5 L328.0,158.3 L330.0,156.1 L332.0,153.9 L334.0,151.8 L336.0,149.6 L338.0,147.4 L340.0,145.3 L342.0,143.1 L344.0,140.9 L346.0,138.7 L348.0,136.4 L350.0,134.2 L352.0,131.9 L354.0,129.5 L356.0,127.2 L358.0,124.8 L360.0,122.4 L361.9,120.0 L363.9,117.6 L365.9,115.2 L367.9,112.7 L369.9,110.2 L371.9,107.7 L373.9,105.2 L375.9,102.7 L377.9,100.2 L379.9,97.7 L381.9,95.2 L383.9,92.7 L385.9,90.2 L387.9,87.6 L389.9,85.1 L391.9,82.6 L393.9,80.0 L395.9,77.5 L397.9,75.0 L399.9,72.4 L401.9,69.9 L403.9,67.4 L405.9,64.9 L407.9,62.4 L409.9,59.9 L411.9,57.3 L413.9,54.8 L415.8,52.3 L417.8,49.8 L419.8,47.3 L421.8,44.8 L423.8,42.3 L425.8,39.8 L427.8,37.3 L429.8,34.8 L431.8,32.3 L433.8,29.8 L435.8,27.3 L437.8,24.8 L439.8,22.3 L441.8,19.8 L441.8,118.9 L439.8,119.8 L437.8,120.7 L435.8,121.6 L433.8,122.5 L431.8,123.5 L429.8,124.4 L427.8,125.4 L425.8,126.4 L423.8,127.4 L421.8,128.4 L419.8,129.5 L417.8,130.6 L415.8,131.7 L413.9,132.9 L411.9,134.0 L409.9,135.2 L407.9,136.4 L405.9,137.6 L403.9,138.9 L401.9,140.2 L399.9,141.5 L397.9,142.8 L395.9,144.1 L393.9,145.5 L391.9,146.8 L389.9,148.2 L387.9,149.6 L385.9,151.0 L383.9,152.5 L381.9,153.9 L379.9,155.4 L377.9,156.9 L375.9,158.4 L373.9,159.9 L371.9,161.4 L369.9,162.9 L367.9,164.5 L365.9,166.1 L363.9,167.8 L361.9,169.4 L360.0,171.2 L358.0,172.9 L356.0,174.7 L354.0,176.5 L352.0,178.3 L350.0,180.2 L348.0,182.1 L346.0,184.1 L344.0,186.1 L342.0,188.1 L340.0,190.2 L338.0,192.3 L336.0,194.5 L334.0,196.6 L332.0,198.9 L330.0,201.1 L328.0,203.4 L326.0,205.7 L324.0,208.1 L322.0,210.4 L320.0,212.7 L318.0,215.1 L316.0,217.4 L314.0,219.8 L312.0,222.1 L310.0,224.4 L308.0,226.7 L306.1,228.9 L304.1,231.2 L302.1,233.5 L300.1,235.7 L298.1,237.9 L296.1,240.1 L294.1,242.2 L292.1,244.4 L290.1,246.5 L288.1,248.5 L286.1,250.5 L284.1,252.5 L282.1,254.5 L280.1,256.5 L278.1,258.4 L276.1,260.3 L274.1,262.2 L272.1,264.2 L270.1,266.1 L268.1,268.1 L266.1,270.0 L264.1,272.0 L262.1,274.1 L260.1,276.1 L258.1,278.2 L256.1,280.3 L254.1,282.4 L252.2,284.6 L250.2,286.8 L248.2,289.0 L246.2,291.3 L244.2,293.5 L242.2,295.7 L240.2,298.0 L238.2,300.2 L236.2,302.3 L234.2,304.5 L232.2,306.6 L230.2,308.7 L228.2,310.7 L226.2,312.8 L224.2,314.7 L222.2,316.7 L220.2,318.6 L218.2,320.4 L216.2,322.2 L214.2,324.0 L212.2,325.7 L210.2,327.4 L208.2,329.1 L206.2,330.7 L204.2,332.3 L202.2,333.8 L200.2,335.4 L198.2,336.9 L196.3,338.4 L194.3,339.9 L192.3,341.4 L190.3,342.8 L188.3,344.3 L186.3,345.7 L184.3,347.1 L182.3,348.5 L180.3,349.8 L178.3,351.1 L176.3,352.4 L174.3,353.6 L172.3,354.7 L170.3,355.8 L168.3,356.9 L166.3,357.8 L164.3,358.8 L162.3,359.6 L160.3,360.5 L158.3,361.3 L156.3,362.0 L154.3,362.7 L152.3,363.4 L150.3,364.0 L148.3,364.6 L146.3,365.2 L144.3,365.7 L142.4,366.2 L140.4,366.7 L138.4,367.1 L136.4,367.5 L134.4,367.9 L132.4,368.2 L130.4,368.5 L128.4,368.7 L126.4,368.9 L124.4,369.0 L122.4,369.1 L120.4,369.2 L118.4,369.3 L116.4,369.3 L114.4,369.3 L112.4,369.3 L110.4,369.3 L108.4,369.3 L106.4,369.3 L104.4,369.3 L102.4,369.4 L100.4,369.5 L98.4,369.6 L96.4,369.8 L94.4,370.1 L92.4,370.5 L90.4,370.9 L88.5,371.5 L86.5,372.3 L84.5,373.4 L82.5,374.5 L80.5,375.7 L78.5,376.9 L76.5,378.0 L74.5,379.3 L72.5,380.6 L70.5,382.0 L68.5,383.6 L66.5,385.4 L64.5,387.6 L62.5,390.0Z" class="rb"/>
<g mask="url(#mB)"><path d="M63.7,387.7 L65.7,384.5 L67.7,381.4 L69.7,378.4 L71.7,375.9 L73.7,373.8 L75.7,372.2 L77.6,370.9 L79.6,369.9 L81.6,368.9 L83.6,368.1 L85.6,367.3 L87.6,366.4 L89.6,365.7 L91.6,365.1 L93.6,364.7 L95.6,364.4 L97.6,364.2 L99.6,363.9 L101.6,363.5 L103.5,363.1 L105.5,362.7 L107.5,362.3 L109.5,361.9 L111.5,361.4 L113.5,360.9 L115.5,360.4 L117.5,359.8 L119.5,359.2 L121.5,358.5 L123.5,357.8 L125.5,357.1 L127.4,356.3 L129.4,355.5 L131.4,354.6 L133.4,353.7 L135.4,352.7 L137.4,351.7 L139.4,350.7 L141.4,349.6 L143.4,348.5 L145.4,347.3 L147.4,346.1 L149.4,344.9 L151.4,343.7 L153.3,342.4 L155.3,341.1 L157.3,339.7 L159.3,338.4 L161.3,337.0 L163.3,335.7 L165.3,334.3 L167.3,332.9 L169.3,331.5 L171.3,330.0 L173.3,328.6 L175.3,327.1 L177.2,325.7 L179.2,324.2 L181.2,322.6 L183.2,321.1 L185.2,319.5 L187.2,318.0 L189.2,316.4 L191.2,314.7 L193.2,313.1 L195.2,311.4 L197.2,309.7 L199.2,308.1 L201.2,306.4 L203.1,304.6 L205.1,302.9 L207.1,301.2 L209.1,299.4 L211.1,297.6 L213.1,295.9 L215.1,294.1 L217.1,292.3 L219.1,290.5 L221.1,288.6 L223.1,286.8 L225.1,285.0 L227.1,283.1 L229.0,281.3 L231.0,279.4 L233.0,277.6 L235.0,275.7 L237.0,273.9 L239.0,272.0 L241.0,270.1 L243.0,268.2 L245.0,266.3 L247.0,264.4 L249.0,262.4 L251.0,260.5 L252.9,258.5 L254.9,256.6 L256.9,254.6 L258.9,252.6 L260.9,250.6 L262.9,248.6 L264.9,246.5 L266.9,244.5 L268.9,242.4 L270.9,240.4 L272.9,238.3 L274.9,236.2 L276.9,234.1 L278.8,232.1 L280.8,230.0 L282.8,227.9 L284.8,225.8 L286.8,223.7 L288.8,221.7 L290.8,219.6 L292.8,217.5 L294.8,215.4 L296.8,213.3 L298.8,211.2 L300.8,209.1 L302.8,207.0 L304.7,204.9 L306.7,202.7 L308.7,200.5 L310.7,198.4 L312.7,196.2 L314.7,194.0 L316.7,191.8 L318.7,189.7 L320.7,187.5 L322.7,185.3 L324.7,183.2 L326.7,181.0 L328.6,178.8 L330.6,176.6 L332.6,174.5 L334.6,172.3 L336.6,170.1 L338.6,167.9 L340.6,165.7 L342.6,163.5 L344.6,161.3 L346.6,159.1 L348.6,156.9 L350.6,154.7 L352.6,152.5 L354.5,150.3 L356.5,148.1 L358.5,145.9 L360.5,143.7 L362.5,141.5 L364.5,139.4 L366.5,137.2 L368.5,135.1 L370.5,133.0 L372.5,130.9 L374.5,128.8 L376.5,126.8 L378.5,124.7 L380.4,122.7 L382.4,120.8 L384.4,118.8 L386.4,116.9 L388.4,115.0 L390.4,113.2 L392.4,111.4 L394.4,109.6 L396.4,107.8 L398.4,106.1 L400.4,104.3 L402.4,102.6 L404.4,100.9 L406.3,99.2 L408.3,97.5 L410.3,95.8 L412.3,94.1 L414.3,92.5 L416.3,90.8 L418.3,89.1 L420.3,87.4 L422.3,85.8 L424.3,84.2 L426.3,82.5 L428.3,80.9 L430.2,79.3 L432.2,77.7 L434.2,76.1 L436.2,74.5 L438.2,72.9 L440.2,71.3 L442.2,69.7" class="thick" stroke="#4190d2"/></g>
<path d="M63.7,387.7 L65.7,384.5 L67.7,381.4 L69.7,378.4 L71.7,375.9 L73.7,373.8 L75.7,372.2 L77.6,370.9 L79.6,369.9 L81.6,368.9 L83.6,368.1 L85.6,367.3 L87.6,366.4 L89.6,365.7 L91.6,365.1 L93.6,364.7 L95.6,364.4 L97.6,364.2 L99.6,363.9 L101.6,363.5 L103.5,363.1 L105.5,362.7 L107.5,362.3 L109.5,361.9 L111.5,361.4 L113.5,360.9 L115.5,360.4 L117.5,359.8 L119.5,359.2 L121.5,358.5 L123.5,357.8 L125.5,357.1 L127.4,356.3 L129.4,355.5 L131.4,354.6 L133.4,353.7 L135.4,352.7 L137.4,351.7 L139.4,350.7 L141.4,349.6 L143.4,348.5 L145.4,347.3 L147.4,346.1 L149.4,344.9 L151.4,343.7 L153.3,342.4 L155.3,341.1 L157.3,339.7 L159.3,338.4 L161.3,337.0 L163.3,335.7 L165.3,334.3 L167.3,332.9 L169.3,331.5 L171.3,330.0 L173.3,328.6 L175.3,327.1 L177.2,325.7 L179.2,324.2 L181.2,322.6 L183.2,321.1 L185.2,319.5 L187.2,318.0 L189.2,316.4 L191.2,314.7 L193.2,313.1 L195.2,311.4 L197.2,309.7 L199.2,308.1 L201.2,306.4 L203.1,304.6 L205.1,302.9 L207.1,301.2 L209.1,299.4 L211.1,297.6 L213.1,295.9 L215.1,294.1 L217.1,292.3 L219.1,290.5 L221.1,288.6 L223.1,286.8 L225.1,285.0 L227.1,283.1 L229.0,281.3 L231.0,279.4 L233.0,277.6 L235.0,275.7 L237.0,273.9 L239.0,272.0 L241.0,270.1 L243.0,268.2 L245.0,266.3 L247.0,264.4 L249.0,262.4 L251.0,260.5 L252.9,258.5 L254.9,256.6 L256.9,254.6 L258.9,252.6 L260.9,250.6 L262.9,248.6 L264.9,246.5 L266.9,244.5 L268.9,242.4 L270.9,240.4 L272.9,238.3 L274.9,236.2 L276.9,234.1 L278.8,232.1 L280.8,230.0 L282.8,227.9 L284.8,225.8 L286.8,223.7 L288.8,221.7 L290.8,219.6 L292.8,217.5 L294.8,215.4 L296.8,213.3 L298.8,211.2 L300.8,209.1 L302.8,207.0 L304.7,204.9 L306.7,202.7 L308.7,200.5 L310.7,198.4 L312.7,196.2 L314.7,194.0 L316.7,191.8 L318.7,189.7 L320.7,187.5 L322.7,185.3 L324.7,183.2 L326.7,181.0 L328.6,178.8 L330.6,176.6 L332.6,174.5 L334.6,172.3 L336.6,170.1 L338.6,167.9 L340.6,165.7 L342.6,163.5 L344.6,161.3 L346.6,159.1 L348.6,156.9 L350.6,154.7 L352.6,152.5 L354.5,150.3 L356.5,148.1 L358.5,145.9 L360.5,143.7 L362.5,141.5 L364.5,139.4 L366.5,137.2 L368.5,135.1 L370.5,133.0 L372.5,130.9 L374.5,128.8 L376.5,126.8 L378.5,124.7 L380.4,122.7 L382.4,120.8 L384.4,118.8 L386.4,116.9 L388.4,115.0 L390.4,113.2 L392.4,111.4 L394.4,109.6 L396.4,107.8 L398.4,106.1 L400.4,104.3 L402.4,102.6 L404.4,100.9 L406.3,99.2 L408.3,97.5 L410.3,95.8 L412.3,94.1 L414.3,92.5 L416.3,90.8 L418.3,89.1 L420.3,87.4 L422.3,85.8 L424.3,84.2 L426.3,82.5 L428.3,80.9 L430.2,79.3 L432.2,77.7 L434.2,76.1 L436.2,74.5 L438.2,72.9 L440.2,71.3 L442.2,69.7" class="thin" stroke="#569de0"/>
<path d="M62.5,383.5 L64.5,382.5 L66.5,381.2 L68.5,379.8 L70.5,378.2 L72.5,376.4 L74.5,374.3 L76.5,372.0 L78.5,369.5 L80.5,367.1 L82.5,364.7 L84.5,362.2 L86.5,360.2 L88.5,358.5 L90.5,356.7 L92.4,354.5 L94.4,352.1 L96.4,349.6 L98.4,347.1 L100.4,344.5 L102.4,341.8 L104.4,339.1 L106.4,336.4 L108.4,333.6 L110.4,330.7 L112.4,327.8 L114.4,324.9 L116.4,322.1 L118.4,319.3 L120.4,316.6 L122.4,313.9 L124.4,311.3 L126.4,308.7 L128.4,306.2 L130.4,303.9 L132.4,301.9 L134.4,299.9 L136.4,297.9 L138.4,296.0 L140.4,294.1 L142.4,292.2 L144.4,290.4 L146.4,288.5 L148.3,286.2 L150.3,284.1 L152.3,282.3 L154.3,280.6 L156.3,278.8 L158.3,277.1 L160.3,275.3 L162.3,273.6 L164.3,271.9 L166.3,270.3 L168.3,268.6 L170.3,267.0 L172.3,265.4 L174.3,263.9 L176.3,262.4 L178.3,260.9 L180.3,259.5 L182.3,258.2 L184.3,256.9 L186.3,255.6 L188.3,254.4 L190.3,253.3 L192.3,252.2 L194.3,251.1 L196.3,250.0 L198.3,249.0 L200.3,248.0 L202.3,247.0 L204.2,246.1 L206.2,245.1 L208.2,244.2 L210.2,243.3 L212.2,242.4 L214.2,241.5 L216.2,240.7 L218.2,239.9 L220.2,239.2 L222.2,238.5 L224.2,237.9 L226.2,237.4 L228.2,236.9 L230.2,236.3 L232.2,235.7 L234.2,235.1 L236.2,234.5 L238.2,234.0 L240.2,233.4 L242.2,232.9 L244.2,232.3 L246.2,231.8 L248.2,231.3 L250.2,230.9 L252.2,230.4 L254.2,230.0 L256.2,229.6 L258.2,229.2 L260.1,228.8 L262.1,228.5 L264.1,228.2 L266.1,227.9 L268.1,227.6 L270.1,227.4 L272.1,227.1 L274.1,226.9 L276.1,226.7 L278.1,226.5 L280.1,226.4 L282.1,226.2 L284.1,226.1 L286.1,226.0 L288.1,225.9 L290.1,225.8 L292.1,225.7 L294.1,225.6 L296.1,225.6 L298.1,225.5 L300.1,225.5 L302.1,225.4 L304.1,225.4 L306.1,225.4 L308.1,225.4 L310.1,225.4 L312.1,225.4 L314.1,225.4 L316.0,225.4 L318.0,225.4 L320.0,225.4 L322.0,225.4 L324.0,225.4 L326.0,225.4 L328.0,225.4 L330.0,225.4 L332.0,225.4 L334.0,225.4 L336.0,225.4 L338.0,225.4 L340.0,225.4 L342.0,225.4 L344.0,225.4 L346.0,225.4 L348.0,225.4 L350.0,225.4 L352.0,225.4 L354.0,225.4 L356.0,225.4 L358.0,225.4 L360.0,225.3 L362.0,225.3 L364.0,225.3 L366.0,225.3 L368.0,225.2 L370.0,225.2 L371.9,225.2 L373.9,225.1 L375.9,225.0 L377.9,225.0 L379.9,224.9 L381.9,224.8 L383.9,224.8 L385.9,224.7 L387.9,224.6 L389.9,224.5 L391.9,224.4 L393.9,224.3 L395.9,224.2 L397.9,224.0 L399.9,223.9 L401.9,223.8 L403.9,223.6 L405.9,223.5 L407.9,223.3 L409.9,223.2 L411.9,223.0 L413.9,222.8 L415.9,222.7 L417.9,222.5 L419.9,222.3 L421.9,222.0 L423.9,221.8 L425.9,221.6 L427.8,221.4 L429.8,221.1 L431.8,220.8 L433.8,220.5 L435.8,220.2 L437.8,219.8 L439.8,219.5 L441.8,219.0 L443.8,218.6 L445.8,218.1 L447.8,217.6 L449.8,217.0 L451.8,216.4 L453.8,215.7 L455.8,215.1 L457.8,214.4 L459.8,213.6 L461.8,212.8 L463.8,212.0 L465.8,211.2 L467.8,210.3 L469.8,209.5 L471.8,208.5 L473.8,207.6 L475.8,206.7 L477.8,205.7 L479.8,204.7 L481.8,203.7 L483.7,202.6 L485.7,201.6 L487.7,200.5 L489.7,199.4 L491.7,198.2 L493.7,197.1 L495.7,195.9 L497.7,194.6 L499.7,193.4 L501.7,192.1 L503.7,190.7 L505.7,189.4 L507.7,188.0 L509.7,186.5 L511.7,185.0 L513.7,183.5 L515.7,181.9 L517.7,180.3 L519.7,178.6 L521.7,176.9 L523.7,175.1 L525.7,173.3 L527.7,171.4 L529.7,169.5 L531.7,167.5 L533.7,165.6 L535.7,163.6 L537.7,161.6 L539.6,159.6 L541.6,157.5 L543.6,155.5 L545.6,153.4 L547.6,151.4 L549.6,149.3 L551.6,147.2 L553.6,145.1 L555.6,142.9 L557.6,140.8 L559.6,138.6 L561.6,136.3 L563.6,134.1 L565.6,131.8 L567.6,129.5 L567.6,171.7 L565.6,173.6 L563.6,175.4 L561.6,177.3 L559.6,179.1 L557.6,180.9 L555.6,182.7 L553.6,184.5 L551.6,186.2 L549.6,188.0 L547.6,189.7 L545.6,191.4 L543.6,193.1 L541.6,194.7 L539.6,196.4 L537.7,198.0 L535.7,199.6 L533.7,201.1 L531.7,202.6 L529.7,204.1 L527.7,205.5 L525.7,206.9 L523.7,208.3 L521.7,209.6 L519.7,210.9 L517.7,212.2 L515.7,213.4 L513.7,214.7 L511.7,216.0 L509.7,217.2 L507.7,218.5 L505.7,219.8 L503.7,221.1 L501.7,222.3 L499.7,223.6 L497.7,224.9 L495.7,226.1 L493.7,227.4 L491.7,228.8 L489.7,230.1 L487.7,231.5 L485.7,232.9 L483.7,234.3 L481.8,235.6 L479.8,237.0 L477.8,238.3 L475.8,239.5 L473.8,240.6 L471.8,241.8 L469.8,242.9 L467.8,244.1 L465.8,245.2 L463.8,246.4 L461.8,247.5 L459.8,248.6 L457.8,249.7 L455.8,250.8 L453.8,251.8 L451.8,252.9 L449.8,253.9 L447.8,254.9 L445.8,255.9 L443.8,257.0 L441.8,258.0 L439.8,259.0 L437.8,260.1 L435.8,261.2 L433.8,262.3 L431.8,263.4 L429.8,264.6 L427.8,265.7 L425.9,266.9 L423.9,268.1 L421.9,269.3 L419.9,270.5 L417.9,271.7 L415.9,272.9 L413.9,274.0 L411.9,275.2 L409.9,276.2 L407.9,277.3 L405.9,278.4 L403.9,279.4 L401.9,280.4 L399.9,281.4 L397.9,282.4 L395.9,283.4 L393.9,284.3 L391.9,285.3 L389.9,286.2 L387.9,287.1 L385.9,288.0 L383.9,288.8 L381.9,289.7 L379.9,290.6 L377.9,291.4 L375.9,292.3 L373.9,293.1 L371.9,293.9 L370.0,294.8 L368.0,295.6 L366.0,296.4 L364.0,297.3 L362.0,298.1 L360.0,298.9 L358.0,299.7 L356.0,300.5 L354.0,301.3 L352.0,302.2 L350.0,303.0 L348.0,303.8 L346.0,304.6 L344.0,305.4 L342.0,306.1 L340.0,306.9 L338.0,307.7 L336.0,308.4 L334.0,309.2 L332.0,309.9 L330.0,310.6 L328.0,311.3 L326.0,312.0 L324.0,312.7 L322.0,313.4 L320.0,314.0 L318.0,314.7 L316.0,315.3 L314.1,315.9 L312.1,316.6 L310.1,317.2 L308.1,317.9 L306.1,318.5 L304.1,319.1 L302.1,319.8 L300.1,320.4 L298.1,321.1 L296.1,321.8 L294.1,322.4 L292.1,323.1 L290.1,323.7 L288.1,324.4 L286.1,325.0 L284.1,325.7 L282.1,326.3 L280.1,327.0 L278.1,327.6 L276.1,328.2 L274.1,328.9 L272.1,329.5 L270.1,330.1 L268.1,330.7 L266.1,331.3 L264.1,331.8 L262.1,332.4 L260.1,332.9 L258.2,333.5 L256.2,334.0 L254.2,334.5 L252.2,335.0 L250.2,335.4 L248.2,335.9 L246.2,336.3 L244.2,336.8 L242.2,337.2 L240.2,337.6 L238.2,338.0 L236.2,338.4 L234.2,338.8 L232.2,339.1 L230.2,339.5 L228.2,339.9 L226.2,340.3 L224.2,340.7 L222.2,341.1 L220.2,341.5 L218.2,341.9 L216.2,342.4 L214.2,342.8 L212.2,343.3 L210.2,343.8 L208.2,344.3 L206.2,344.8 L204.2,345.4 L202.3,346.0 L200.3,346.6 L198.3,347.2 L196.3,347.9 L194.3,348.7 L192.3,349.4 L190.3,350.2 L188.3,351.1 L186.3,352.0 L184.3,352.9 L182.3,353.9 L180.3,354.9 L178.3,355.9 L176.3,356.9 L174.3,357.9 L172.3,359.0 L170.3,360.0 L168.3,361.0 L166.3,362.0 L164.3,363.0 L162.3,364.0 L160.3,364.9 L158.3,365.8 L156.3,366.7 L154.3,367.5 L152.3,368.3 L150.3,369.0 L148.3,369.7 L146.4,370.4 L144.4,371.0 L142.4,371.6 L140.4,372.1 L138.4,372.5 L136.4,373.0 L134.4,373.3 L132.4,373.6 L130.4,373.9 L128.4,374.1 L126.4,374.3 L124.4,374.4 L122.4,374.5 L120.4,374.5 L118.4,374.6 L116.4,374.6 L114.4,374.5 L112.4,374.5 L110.4,374.4 L108.4,374.4 L106.4,374.4 L104.4,374.3 L102.4,374.3 L100.4,374.3 L98.4,374.3 L96.4,374.3 L94.4,374.3 L92.4,374.4 L90.5,374.7 L88.5,375.4 L86.5,376.2 L84.5,377.1 L82.5,378.0 L80.5,378.8 L78.5,379.5 L76.5,380.1 L74.5,380.7 L72.5,381.4 L70.5,382.1 L68.5,383.0 L66.5,384.0 L64.5,385.1 L62.5,386.3Z" class="rb"/>
<g mask="url(#mO)"><path d="M62.4,381.2 L64.4,380.5 L66.4,379.8 L68.4,379.2 L70.4,378.7 L72.4,378.2 L74.4,377.6 L76.4,376.6 L78.4,375.2 L80.4,373.3 L82.4,371.2 L84.4,369.5 L86.4,368.1 L88.4,366.8 L90.4,365.5 L92.4,364.0 L94.3,362.4 L96.3,360.6 L98.3,358.8 L100.3,357.0 L102.3,355.3 L104.3,353.5 L106.3,351.8 L108.3,350.0 L110.3,348.3 L112.3,346.6 L114.3,344.9 L116.3,343.3 L118.3,341.7 L120.3,340.2 L122.3,338.7 L124.3,337.2 L126.3,335.9 L128.3,334.5 L130.3,333.2 L132.3,331.9 L134.3,330.6 L136.3,329.4 L138.3,328.2 L140.3,327.0 L142.3,325.8 L144.3,324.6 L146.3,323.5 L148.3,322.3 L150.3,321.2 L152.3,320.0 L154.3,318.9 L156.3,317.8 L158.2,316.7 L160.2,315.7 L162.2,314.6 L164.2,313.6 L166.2,312.6 L168.2,311.6 L170.2,310.6 L172.2,309.6 L174.2,308.6 L176.2,307.7 L178.2,306.7 L180.2,305.8 L182.2,304.9 L184.2,303.9 L186.2,303.0 L188.2,302.1 L190.2,301.2 L192.2,300.3 L194.2,299.4 L196.2,298.5 L198.2,297.7 L200.2,296.8 L202.2,296.0 L204.2,295.3 L206.2,294.5 L208.2,293.8 L210.2,293.0 L212.2,292.4 L214.2,291.7 L216.2,291.0 L218.2,290.4 L220.2,289.8 L222.1,289.2 L224.1,288.6 L226.1,288.0 L228.1,287.5 L230.1,286.9 L232.1,286.4 L234.1,285.9 L236.1,285.4 L238.1,285.0 L240.1,284.5 L242.1,284.0 L244.1,283.6 L246.1,283.2 L248.1,282.8 L250.1,282.4 L252.1,282.0 L254.1,281.6 L256.1,281.2 L258.1,280.8 L260.1,280.4 L262.1,280.0 L264.1,279.6 L266.1,279.3 L268.1,278.9 L270.1,278.5 L272.1,278.2 L274.1,277.8 L276.1,277.4 L278.1,277.1 L280.1,276.7 L282.1,276.3 L284.0,275.9 L286.0,275.6 L288.0,275.2 L290.0,274.8 L292.0,274.5 L294.0,274.1 L296.0,273.8 L298.0,273.4 L300.0,273.1 L302.0,272.8 L304.0,272.5 L306.0,272.2 L308.0,272.0 L310.0,271.7 L312.0,271.4 L314.0,271.1 L316.0,270.8 L318.0,270.6 L320.0,270.3 L322.0,270.0 L324.0,269.7 L326.0,269.3 L328.0,269.0 L330.0,268.7 L332.0,268.3 L334.0,267.9 L336.0,267.5 L338.0,267.1 L340.0,266.7 L342.0,266.3 L344.0,265.8 L346.0,265.4 L347.9,264.9 L349.9,264.5 L351.9,264.0 L353.9,263.6 L355.9,263.1 L357.9,262.6 L359.9,262.1 L361.9,261.7 L363.9,261.2 L365.9,260.7 L367.9,260.2 L369.9,259.7 L371.9,259.2 L373.9,258.7 L375.9,258.2 L377.9,257.7 L379.9,257.2 L381.9,256.6 L383.9,256.1 L385.9,255.5 L387.9,255.0 L389.9,254.4 L391.9,253.9 L393.9,253.3 L395.9,252.8 L397.9,252.2 L399.9,251.6 L401.9,251.1 L403.9,250.5 L405.9,249.9 L407.9,249.3 L409.8,248.8 L411.8,248.2 L413.8,247.6 L415.8,247.0 L417.8,246.4 L419.8,245.8 L421.8,245.2 L423.8,244.6 L425.8,243.9 L427.8,243.3 L429.8,242.6 L431.8,241.9 L433.8,241.2 L435.8,240.5 L437.8,239.8 L439.8,239.0 L441.8,238.2 L443.8,237.3 L445.8,236.5 L447.8,235.6 L449.8,234.6 L451.8,233.7 L453.8,232.8 L455.8,231.8 L457.8,230.8 L459.8,229.9 L461.8,228.9 L463.8,227.9 L465.8,226.9 L467.8,225.9 L469.8,224.8 L471.8,223.8 L473.7,222.7 L475.7,221.6 L477.7,220.5 L479.7,219.4 L481.7,218.2 L483.7,217.0 L485.7,215.8 L487.7,214.5 L489.7,213.2 L491.7,211.9 L493.7,210.6 L495.7,209.3 L497.7,207.9 L499.7,206.6 L501.7,205.2 L503.7,203.8 L505.7,202.3 L507.7,200.9 L509.7,199.4 L511.7,198.0 L513.7,196.5 L515.7,195.0 L517.7,193.6 L519.7,192.1 L521.7,190.6 L523.7,189.1 L525.7,187.6 L527.7,186.1 L529.7,184.7 L531.7,183.2 L533.7,181.7 L535.7,180.1 L537.6,178.6 L539.6,177.0 L541.6,175.5 L543.6,173.8 L545.6,172.2 L547.6,170.5 L549.6,168.8 L551.6,167.0 L553.6,165.2 L555.6,163.4 L557.6,161.6 L559.6,159.7 L561.6,157.8 L563.6,155.8 L565.6,153.9 L567.6,151.9" class="thick" stroke="#da6418"/></g>
<path d="M62.4,381.2 L64.4,380.5 L66.4,379.8 L68.4,379.2 L70.4,378.7 L72.4,378.2 L74.4,377.6 L76.4,376.6 L78.4,375.2 L80.4,373.3 L82.4,371.2 L84.4,369.5 L86.4,368.1 L88.4,366.8 L90.4,365.5 L92.4,364.0 L94.3,362.4 L96.3,360.6 L98.3,358.8 L100.3,357.0 L102.3,355.3 L104.3,353.5 L106.3,351.8 L108.3,350.0 L110.3,348.3 L112.3,346.6 L114.3,344.9 L116.3,343.3 L118.3,341.7 L120.3,340.2 L122.3,338.7 L124.3,337.2 L126.3,335.9 L128.3,334.5 L130.3,333.2 L132.3,331.9 L134.3,330.6 L136.3,329.4 L138.3,328.2 L140.3,327.0 L142.3,325.8 L144.3,324.6 L146.3,323.5 L148.3,322.3 L150.3,321.2 L152.3,320.0 L154.3,318.9 L156.3,317.8 L158.2,316.7 L160.2,315.7 L162.2,314.6 L164.2,313.6 L166.2,312.6 L168.2,311.6 L170.2,310.6 L172.2,309.6 L174.2,308.6 L176.2,307.7 L178.2,306.7 L180.2,305.8 L182.2,304.9 L184.2,303.9 L186.2,303.0 L188.2,302.1 L190.2,301.2 L192.2,300.3 L194.2,299.4 L196.2,298.5 L198.2,297.7 L200.2,296.8 L202.2,296.0 L204.2,295.3 L206.2,294.5 L208.2,293.8 L210.2,293.0 L212.2,292.4 L214.2,291.7 L216.2,291.0 L218.2,290.4 L220.2,289.8 L222.1,289.2 L224.1,288.6 L226.1,288.0 L228.1,287.5 L230.1,286.9 L232.1,286.4 L234.1,285.9 L236.1,285.4 L238.1,285.0 L240.1,284.5 L242.1,284.0 L244.1,283.6 L246.1,283.2 L248.1,282.8 L250.1,282.4 L252.1,282.0 L254.1,281.6 L256.1,281.2 L258.1,280.8 L260.1,280.4 L262.1,280.0 L264.1,279.6 L266.1,279.3 L268.1,278.9 L270.1,278.5 L272.1,278.2 L274.1,277.8 L276.1,277.4 L278.1,277.1 L280.1,276.7 L282.1,276.3 L284.0,275.9 L286.0,275.6 L288.0,275.2 L290.0,274.8 L292.0,274.5 L294.0,274.1 L296.0,273.8 L298.0,273.4 L300.0,273.1 L302.0,272.8 L304.0,272.5 L306.0,272.2 L308.0,272.0 L310.0,271.7 L312.0,271.4 L314.0,271.1 L316.0,270.8 L318.0,270.6 L320.0,270.3 L322.0,270.0 L324.0,269.7 L326.0,269.3 L328.0,269.0 L330.0,268.7 L332.0,268.3 L334.0,267.9 L336.0,267.5 L338.0,267.1 L340.0,266.7 L342.0,266.3 L344.0,265.8 L346.0,265.4 L347.9,264.9 L349.9,264.5 L351.9,264.0 L353.9,263.6 L355.9,263.1 L357.9,262.6 L359.9,262.1 L361.9,261.7 L363.9,261.2 L365.9,260.7 L367.9,260.2 L369.9,259.7 L371.9,259.2 L373.9,258.7 L375.9,258.2 L377.9,257.7 L379.9,257.2 L381.9,256.6 L383.9,256.1 L385.9,255.5 L387.9,255.0 L389.9,254.4 L391.9,253.9 L393.9,253.3 L395.9,252.8 L397.9,252.2 L399.9,251.6 L401.9,251.1 L403.9,250.5 L405.9,249.9 L407.9,249.3 L409.8,248.8 L411.8,248.2 L413.8,247.6 L415.8,247.0 L417.8,246.4 L419.8,245.8 L421.8,245.2 L423.8,244.6 L425.8,243.9 L427.8,243.3 L429.8,242.6 L431.8,241.9 L433.8,241.2 L435.8,240.5 L437.8,239.8 L439.8,239.0 L441.8,238.2 L443.8,237.3 L445.8,236.5 L447.8,235.6 L449.8,234.6 L451.8,233.7 L453.8,232.8 L455.8,231.8 L457.8,230.8 L459.8,229.9 L461.8,228.9 L463.8,227.9 L465.8,226.9 L467.8,225.9 L469.8,224.8 L471.8,223.8 L473.7,222.7 L475.7,221.6 L477.7,220.5 L479.7,219.4 L481.7,218.2 L483.7,217.0 L485.7,215.8 L487.7,214.5 L489.7,213.2 L491.7,211.9 L493.7,210.6 L495.7,209.3 L497.7,207.9 L499.7,206.6 L501.7,205.2 L503.7,203.8 L505.7,202.3 L507.7,200.9 L509.7,199.4 L511.7,198.0 L513.7,196.5 L515.7,195.0 L517.7,193.6 L519.7,192.1 L521.7,190.6 L523.7,189.1 L525.7,187.6 L527.7,186.1 L529.7,184.7 L531.7,183.2 L533.7,181.7 L535.7,180.1 L537.6,178.6 L539.6,177.0 L541.6,175.5 L543.6,173.8 L545.6,172.2 L547.6,170.5 L549.6,168.8 L551.6,167.0 L553.6,165.2 L555.6,163.4 L557.6,161.6 L559.6,159.7 L561.6,157.8 L563.6,155.8 L565.6,153.9 L567.6,151.9" class="thin" stroke="#da6418"/>
<path d="M62.5,384.0 L64.5,382.2 L66.5,379.9 L68.5,376.8 L70.5,373.0 L72.5,368.3 L74.5,363.1 L76.5,357.6 L78.5,351.9 L80.5,346.3 L82.5,341.0 L84.5,335.4 L86.5,329.5 L88.5,323.6 L90.5,318.0 L92.5,313.4 L94.5,309.5 L96.5,305.8 L98.5,302.2 L100.5,298.3 L102.5,294.4 L104.5,290.5 L106.5,286.6 L108.5,282.8 L110.5,278.9 L112.5,275.0 L114.5,271.0 L116.5,267.0 L118.5,263.0 L120.5,259.0 L122.5,255.0 L124.5,251.0 L126.5,247.1 L128.5,243.3 L130.5,239.5 L132.5,235.8 L134.5,232.2 L136.5,228.7 L138.5,225.3 L140.5,221.9 L142.5,218.6 L144.5,215.3 L146.5,212.0 L148.5,208.8 L150.5,205.7 L152.5,202.6 L154.5,199.6 L156.5,196.6 L158.5,193.6 L160.5,190.8 L162.5,187.9 L164.5,185.2 L166.5,182.4 L168.5,179.8 L170.5,177.2 L172.5,174.7 L174.5,172.3 L176.5,170.0 L178.5,167.7 L180.5,165.5 L182.5,163.3 L184.5,161.2 L186.5,159.1 L188.4,157.1 L190.4,155.0 L192.4,153.0 L194.4,151.0 L196.4,149.1 L198.4,147.1 L200.4,145.2 L202.4,143.3 L204.4,141.5 L206.4,139.6 L208.4,137.8 L210.4,136.1 L212.4,134.3 L214.4,132.6 L216.4,130.9 L218.4,129.2 L220.4,127.6 L222.4,126.0 L224.4,124.5 L226.4,123.0 L228.4,121.7 L230.4,120.4 L232.4,119.1 L234.4,118.0 L236.4,116.9 L238.4,115.9 L240.4,114.9 L242.4,114.0 L244.4,113.2 L246.4,112.4 L248.4,111.7 L250.4,111.0 L252.4,110.3 L254.4,109.6 L256.4,109.0 L258.4,108.5 L260.4,107.9 L262.4,107.4 L264.4,106.9 L266.4,106.5 L268.4,106.2 L270.4,105.8 L272.4,105.5 L274.4,105.3 L276.4,105.1 L278.4,104.9 L280.4,104.7 L282.4,104.6 L284.4,104.4 L286.4,104.3 L288.4,104.3 L290.4,104.2 L292.4,104.2 L294.4,104.1 L296.4,104.1 L298.4,104.2 L300.4,104.2 L302.4,104.3 L304.4,104.3 L306.4,104.4 L308.4,104.5 L310.4,104.6 L312.4,104.7 L314.4,104.9 L316.4,105.0 L318.4,105.1 L320.4,105.3 L322.4,105.5 L324.4,105.6 L326.4,105.8 L328.4,106.1 L330.4,106.3 L332.4,106.6 L334.4,106.9 L336.4,107.2 L338.4,107.5 L340.4,107.9 L342.4,108.3 L344.4,108.7 L346.4,109.1 L348.4,109.6 L350.4,110.0 L352.4,110.5 L354.4,110.9 L356.4,111.4 L358.4,111.9 L360.4,112.4 L362.4,112.9 L364.4,113.4 L366.4,113.9 L368.4,114.4 L370.4,114.9 L372.4,115.4 L374.4,115.9 L376.4,116.4 L378.4,116.9 L380.4,117.5 L382.4,118.0 L384.4,118.5 L386.4,119.0 L388.4,119.5 L390.4,120.0 L392.4,120.4 L394.4,120.9 L396.4,121.4 L398.4,121.8 L400.4,122.3 L402.4,122.8 L404.4,123.2 L406.4,123.6 L408.4,124.1 L410.4,124.5 L412.4,124.9 L414.4,125.3 L416.4,125.7 L418.4,126.2 L420.4,126.6 L422.4,126.9 L424.4,127.3 L426.4,127.7 L428.4,128.1 L430.4,128.4 L432.4,128.8 L434.4,129.1 L436.4,129.5 L438.4,129.8 L440.3,130.2 L442.3,130.5 L444.3,130.8 L446.3,131.2 L448.3,131.5 L450.3,131.8 L452.3,132.1 L454.3,132.4 L456.3,132.6 L458.3,132.8 L460.3,132.9 L462.3,133.0 L464.3,133.1 L466.3,133.1 L468.3,133.1 L470.3,133.1 L472.3,133.0 L474.3,132.9 L476.3,132.8 L478.3,132.6 L480.3,132.4 L482.3,132.2 L484.3,132.0 L486.3,131.7 L488.3,131.4 L490.3,131.1 L492.3,130.7 L494.3,130.3 L496.3,129.9 L498.3,129.4 L500.3,128.9 L502.3,128.4 L504.3,127.8 L506.3,127.2 L508.3,126.5 L510.3,125.8 L512.3,125.1 L514.3,124.3 L516.3,123.5 L518.3,122.7 L520.3,121.9 L522.3,121.0 L524.3,120.2 L526.3,119.3 L528.3,118.4 L530.3,117.5 L532.3,116.6 L534.3,115.6 L536.3,114.6 L538.3,113.6 L540.3,112.4 L542.3,111.3 L544.3,110.1 L546.3,108.8 L548.3,107.5 L550.3,106.2 L552.3,104.8 L554.3,103.4 L556.3,102.0 L558.3,100.6 L560.3,99.2 L562.3,97.7 L564.3,96.2 L564.3,171.3 L562.3,171.4 L560.3,171.5 L558.3,171.6 L556.3,171.7 L554.3,171.9 L552.3,172.0 L550.3,172.1 L548.3,172.2 L546.3,172.4 L544.3,172.5 L542.3,172.6 L540.3,172.8 L538.3,172.9 L536.3,173.0 L534.3,173.2 L532.3,173.3 L530.3,173.5 L528.3,173.6 L526.3,173.8 L524.3,173.9 L522.3,174.1 L520.3,174.2 L518.3,174.3 L516.3,174.5 L514.3,174.6 L512.3,174.7 L510.3,174.9 L508.3,175.0 L506.3,175.1 L504.3,175.2 L502.3,175.3 L500.3,175.4 L498.3,175.5 L496.3,175.6 L494.3,175.7 L492.3,175.8 L490.3,175.9 L488.3,176.1 L486.3,176.2 L484.3,176.3 L482.3,176.4 L480.3,176.5 L478.3,176.7 L476.3,176.8 L474.3,177.0 L472.3,177.1 L470.3,177.3 L468.3,177.5 L466.3,177.7 L464.3,178.0 L462.3,178.2 L460.3,178.5 L458.3,178.8 L456.3,179.2 L454.3,179.5 L452.3,179.9 L450.3,180.3 L448.3,180.7 L446.3,181.0 L444.3,181.4 L442.3,181.7 L440.3,182.0 L438.4,182.3 L436.4,182.6 L434.4,182.9 L432.4,183.2 L430.4,183.5 L428.4,183.8 L426.4,184.0 L424.4,184.3 L422.4,184.6 L420.4,184.8 L418.4,185.1 L416.4,185.3 L414.4,185.6 L412.4,185.8 L410.4,186.1 L408.4,186.3 L406.4,186.6 L404.4,186.8 L402.4,187.1 L400.4,187.4 L398.4,187.7 L396.4,188.0 L394.4,188.3 L392.4,188.6 L390.4,188.9 L388.4,189.3 L386.4,189.6 L384.4,190.0 L382.4,190.3 L380.4,190.7 L378.4,191.0 L376.4,191.4 L374.4,191.7 L372.4,192.1 L370.4,192.5 L368.4,192.8 L366.4,193.2 L364.4,193.6 L362.4,194.1 L360.4,194.5 L358.4,194.9 L356.4,195.4 L354.4,195.9 L352.4,196.4 L350.4,196.9 L348.4,197.5 L346.4,198.1 L344.4,198.6 L342.4,199.2 L340.4,199.8 L338.4,200.3 L336.4,200.8 L334.4,201.3 L332.4,201.8 L330.4,202.3 L328.4,202.7 L326.4,203.2 L324.4,203.6 L322.4,204.1 L320.4,204.5 L318.4,204.9 L316.4,205.3 L314.4,205.8 L312.4,206.2 L310.4,206.6 L308.4,207.1 L306.4,207.5 L304.4,208.0 L302.4,208.4 L300.4,208.9 L298.4,209.4 L296.4,209.9 L294.4,210.4 L292.4,210.9 L290.4,211.4 L288.4,211.9 L286.4,212.5 L284.4,213.0 L282.4,213.6 L280.4,214.1 L278.4,214.7 L276.4,215.3 L274.4,215.9 L272.4,216.5 L270.4,217.1 L268.4,217.7 L266.4,218.4 L264.4,219.1 L262.4,219.8 L260.4,220.5 L258.4,221.3 L256.4,222.1 L254.4,222.8 L252.4,223.6 L250.4,224.5 L248.4,225.3 L246.4,226.2 L244.4,227.1 L242.4,228.0 L240.4,229.0 L238.4,229.9 L236.4,230.9 L234.4,231.9 L232.4,233.0 L230.4,234.0 L228.4,235.1 L226.4,236.3 L224.4,237.4 L222.4,238.5 L220.4,239.5 L218.4,240.5 L216.4,241.4 L214.4,242.4 L212.4,243.3 L210.4,244.2 L208.4,245.1 L206.4,246.0 L204.4,247.0 L202.4,247.9 L200.4,248.9 L198.4,249.9 L196.4,250.9 L194.4,252.0 L192.4,253.1 L190.4,254.2 L188.4,255.3 L186.5,256.5 L184.5,257.8 L182.5,259.0 L180.5,260.4 L178.5,261.8 L176.5,263.2 L174.5,264.7 L172.5,266.3 L170.5,267.9 L168.5,269.5 L166.5,271.1 L164.5,272.8 L162.5,274.5 L160.5,276.2 L158.5,278.0 L156.5,279.7 L154.5,281.5 L152.5,283.2 L150.5,285.0 L148.5,286.7 L146.5,288.2 L144.5,289.9 L142.5,291.7 L140.5,293.6 L138.5,295.4 L136.5,297.3 L134.5,299.3 L132.5,301.2 L130.5,303.2 L128.5,305.1 L126.5,307.1 L124.5,309.0 L122.5,311.0 L120.5,313.1 L118.5,315.3 L116.5,317.5 L114.5,319.8 L112.5,322.2 L110.5,324.7 L108.5,327.2 L106.5,329.9 L104.5,332.7 L102.5,335.5 L100.5,338.4 L98.5,341.3 L96.5,344.2 L94.5,347.1 L92.5,350.1 L90.5,353.1 L88.5,356.3 L86.5,359.5 L84.5,362.4 L82.5,365.0 L80.5,367.5 L78.5,370.0 L76.5,372.5 L74.5,374.8 L72.5,377.0 L70.5,378.8 L68.5,380.5 L66.5,381.9 L64.5,383.2 L62.5,384.2Z" class="rb"/>
<path d="M65.1,382.1 L67.1,381.2 L69.1,379.6 L71.1,377.6 L73.1,374.3 L75.1,369.3 L77.1,364.3 L79.1,359.4 L81.1,354.6 L83.1,350.1 L85.1,345.9 L87.1,341.9 L89.1,338.1 L91.1,334.5 L93.1,330.9 L95.1,327.4 L97.0,324.0 L99.0,320.6 L101.0,317.3 L103.0,314.0 L105.0,310.7 L107.0,307.4 L109.0,304.2 L111.0,301.1 L113.0,297.9 L115.0,294.8 L117.0,291.7 L119.0,288.6 L121.0,285.6 L123.0,282.6 L125.0,279.7 L127.0,276.8 L129.0,273.9 L131.0,271.1 L133.0,268.4 L135.0,265.7 L137.0,263.0 L139.0,260.4 L141.0,257.9 L143.0,255.4 L145.0,253.0 L147.0,250.6 L149.0,248.3 L151.0,246.0 L153.0,243.7 L155.0,241.5 L157.0,239.3 L158.9,237.1 L160.9,234.9 L162.9,232.8 L164.9,230.7 L166.9,228.5 L168.9,226.4 L170.9,224.4 L172.9,222.3 L174.9,220.3 L176.9,218.4 L178.9,216.4 L180.9,214.6 L182.9,212.8 L184.9,211.0 L186.9,209.3 L188.9,207.6 L190.9,206.0 L192.9,204.3 L194.9,202.7 L196.9,201.1 L198.9,199.6 L200.9,198.0 L202.9,196.5 L204.9,195.1 L206.9,193.6 L208.9,192.2 L210.9,190.8 L212.9,189.5 L214.9,188.2 L216.9,186.9 L218.9,185.6 L220.9,184.3 L222.8,183.1 L224.8,181.8 L226.8,180.6 L228.8,179.5 L230.8,178.4 L232.8,177.3 L234.8,176.2 L236.8,175.2 L238.8,174.2 L240.8,173.2 L242.8,172.1 L244.8,171.2 L246.8,170.2 L248.8,169.2 L250.8,168.3 L252.8,167.3 L254.8,166.4 L256.8,165.5 L258.8,164.6 L260.8,163.8 L262.8,163.0 L264.8,162.2 L266.8,161.5 L268.8,160.8 L270.8,160.3 L272.8,159.7 L274.8,159.2 L276.8,158.7 L278.8,158.3 L280.8,157.9 L282.8,157.6 L284.7,157.2 L286.7,156.9 L288.7,156.6 L290.7,156.2 L292.7,156.0 L294.7,155.7 L296.7,155.4 L298.7,155.2 L300.7,154.9 L302.7,154.7 L304.7,154.5 L306.7,154.3 L308.7,154.1 L310.7,154.0 L312.7,153.8 L314.7,153.7 L316.7,153.5 L318.7,153.4 L320.7,153.3 L322.7,153.1 L324.7,153.0 L326.7,153.0 L328.7,152.9 L330.7,152.8 L332.7,152.8 L334.7,152.7 L336.7,152.7 L338.7,152.7 L340.7,152.7 L342.7,152.7 L344.7,152.7 L346.6,152.7 L348.6,152.7 L350.6,152.8 L352.6,152.8 L354.6,152.8 L356.6,152.8 L358.6,152.9 L360.6,152.9 L362.6,153.0 L364.6,153.0 L366.6,153.1 L368.6,153.2 L370.6,153.2 L372.6,153.3 L374.6,153.4 L376.6,153.5 L378.6,153.6 L380.6,153.7 L382.6,153.8 L384.6,153.9 L386.6,154.0 L388.6,154.1 L390.6,154.2 L392.6,154.3 L394.6,154.5 L396.6,154.6 L398.6,154.7 L400.6,154.8 L402.6,154.9 L404.6,154.9 L406.6,155.0 L408.5,155.1 L410.5,155.2 L412.5,155.2 L414.5,155.3 L416.5,155.4 L418.5,155.4 L420.5,155.5 L422.5,155.6 L424.5,155.6 L426.5,155.7 L428.5,155.8 L430.5,155.9 L432.5,155.9 L434.5,156.0 L436.5,156.0 L438.5,156.1 L440.5,156.1 L442.5,156.1 L444.5,156.1 L446.5,156.2 L448.5,156.2 L450.5,156.1 L452.5,156.1 L454.5,156.1 L456.5,156.1 L458.5,156.0 L460.5,155.9 L462.5,155.9 L464.5,155.8 L466.5,155.6 L468.5,155.5 L470.5,155.4 L472.4,155.3 L474.4,155.1 L476.4,155.0 L478.4,154.9 L480.4,154.7 L482.4,154.6 L484.4,154.5 L486.4,154.3 L488.4,154.1 L490.4,154.0 L492.4,153.8 L494.4,153.5 L496.4,153.3 L498.4,153.0 L500.4,152.7 L502.4,152.4 L504.4,152.1 L506.4,151.7 L508.4,151.3 L510.4,150.8 L512.4,150.4 L514.4,149.9 L516.4,149.4 L518.4,148.9 L520.4,148.4 L522.4,147.8 L524.4,147.2 L526.4,146.6 L528.4,146.0 L530.4,145.4 L532.4,144.7 L534.3,144.1 L536.3,143.4 L538.3,142.8 L540.3,142.1 L542.3,141.4 L544.3,140.7 L546.3,140.0 L548.3,139.3 L550.3,138.6 L552.3,137.9 L554.3,137.2 L556.3,136.5 L558.3,135.8 L560.3,135.1 L562.3,134.4 L564.3,133.7" class="thick" stroke="#35b85b"/>
<line x1="38.2" y1="401.9" x2="592.7" y2="20.6" stroke="#000" stroke-width="2" stroke-dasharray="8.2 7.73" stroke-dashoffset="0"/>
</g>
<rect x="38.2" y="0.4" width="554.5" height="413.0" fill="none" stroke="#333" stroke-width="1.3"/>
<line x1="62.3" x2="62.3" y1="413.4" y2="416.4" class="tk"/>
<line y1="385.3" y2="385.3" x1="35.0" x2="38.2" class="tk"/>
<line x1="188.6" x2="188.6" y1="413.4" y2="416.4" class="tk"/>
<line y1="298.5" y2="298.5" x1="35.0" x2="38.2" class="tk"/>
<line x1="314.9" x2="314.9" y1="413.4" y2="416.4" class="tk"/>
<line y1="211.6" y2="211.6" x1="35.0" x2="38.2" class="tk"/>
<line x1="441.3" x2="441.3" y1="413.4" y2="416.4" class="tk"/>
<line y1="124.8" y2="124.8" x1="35.0" x2="38.2" class="tk"/>
<line x1="567.6" x2="567.6" y1="413.4" y2="416.4" class="tk"/>
<line y1="37.9" y2="37.9" x1="35.0" x2="38.2" class="tk"/>
<text x="62.3" y="424.4" text-anchor="middle" class="tl">0%</text>
<text x="32.8" y="388.2" text-anchor="end" class="tl">0%</text>
<text x="188.6" y="424.4" text-anchor="middle" class="tl">25%</text>
<text x="32.8" y="301.4" text-anchor="end" class="tl">25%</text>
<text x="314.9" y="424.4" text-anchor="middle" class="tl">50%</text>
<text x="32.8" y="214.5" text-anchor="end" class="tl">50%</text>
<text x="441.3" y="424.4" text-anchor="middle" class="tl">75%</text>
<text x="32.8" y="127.7" text-anchor="end" class="tl">75%</text>
<text x="567.6" y="424.4" text-anchor="middle" class="tl">100%</text>
<text x="32.8" y="40.8" text-anchor="end" class="tl">100%</text>
<text x="315.2" y="435.8" text-anchor="middle" class="at">Predicted Mortality (%)</text>
<text transform="translate(7.6,206.7) rotate(-90)" text-anchor="middle" class="at">Observed Mortality (%)</text>
<text x="607.8" y="184.6" class="at">Model</text>
<rect x="608" y="190.8" width="15.2" height="46.8" fill="#b8b8b8"/>
<line x1="609.5" x2="621.8" y1="198.1" y2="198.1" stroke="#da6418" stroke-width="3.3"/>
<line x1="609.5" x2="621.8" y1="213.9" y2="213.9" stroke="#35b85b" stroke-width="3.3"/>
<line x1="609.5" x2="621.8" y1="229.6" y2="229.6" stroke="#4190d2" stroke-width="3.3"/>
<text x="628.4" y="201.2" class="ll">PELOD-2</text>
<text x="628.4" y="216.9" class="ll">rPELOD-2</text>
<text x="628.4" y="232.4" class="ll">PELOD<tspan dy="1.6" font-size="5.2px" font-style="italic">RF</tspan></text>
</svg>
</body></html>
